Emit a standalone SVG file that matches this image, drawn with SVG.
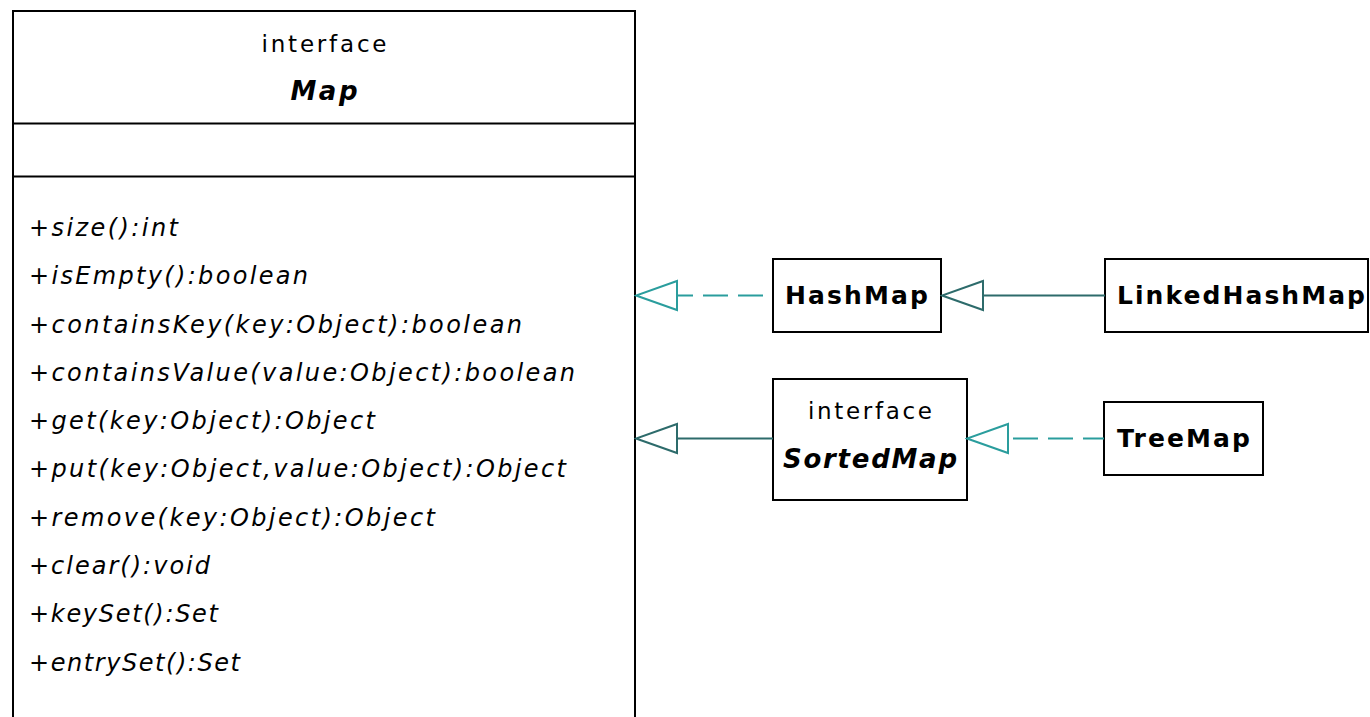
<svg xmlns="http://www.w3.org/2000/svg" width="1370" height="717" viewBox="0 0 1370 717">
<style>
.box{fill:#fff;stroke:#000;stroke-width:2}
.div{stroke:#000;stroke-width:2}
text{font-family:"DejaVu Sans","Liberation Sans",sans-serif;fill:#000}
.st{font-size:23px}
.nm{font-size:25px;font-weight:bold}
.ab{font-size:26px;font-weight:bold;font-style:italic}
.op{font-size:24px;font-style:italic}
.dash{fill:none;stroke:#2a9d9d;stroke-width:2;stroke-dasharray:25 10}
.solid{fill:none;stroke:#2d6b6b;stroke-width:2}
</style>
<defs>
<marker id="triD" markerUnits="userSpaceOnUse" markerWidth="46" markerHeight="36" viewBox="-44 -18 46 36" refX="-41" refY="0" orient="auto">
<path d="M0,0 L-41,-14.5 L-41,14.5 Z" fill="#fff" stroke="#2a9d9d" stroke-width="2"/>
</marker>
<marker id="triS" markerUnits="userSpaceOnUse" markerWidth="46" markerHeight="36" viewBox="-44 -18 46 36" refX="-41" refY="0" orient="auto">
<path d="M0,0 L-41,-14.5 L-41,14.5 Z" fill="#fff" stroke="#2d6b6b" stroke-width="2"/>
</marker>
</defs>
<g id="map">
<rect class="box" x="13" y="11" width="622" height="730"/>
<line class="div" x1="13" y1="123.5" x2="635" y2="123.5"/>
<line class="div" x1="13" y1="176.5" x2="635" y2="176.5"/>
<text class="st" x="324" y="52" text-anchor="middle" textLength="125" lengthAdjust="spacing">interface</text>
<text class="ab" x="324" y="100" text-anchor="middle" textLength="67" lengthAdjust="spacing">Map</text>
<text class="op" x="29" y="236" textLength="149" lengthAdjust="spacing">+size():int</text>
<text class="op" x="29" y="284" textLength="279" lengthAdjust="spacing">+isEmpty():boolean</text>
<text class="op" x="29" y="333" textLength="493" lengthAdjust="spacing">+containsKey(key:Object):boolean</text>
<text class="op" x="29" y="381" textLength="546" lengthAdjust="spacing">+containsValue(value:Object):boolean</text>
<text class="op" x="29" y="429" textLength="346" lengthAdjust="spacing">+get(key:Object):Object</text>
<text class="op" x="29" y="477" textLength="537" lengthAdjust="spacing">+put(key:Object,value:Object):Object</text>
<text class="op" x="29" y="526" textLength="406" lengthAdjust="spacing">+remove(key:Object):Object</text>
<text class="op" x="29" y="574" textLength="181" lengthAdjust="spacing">+clear():void</text>
<text class="op" x="29" y="622" textLength="189" lengthAdjust="spacing">+keySet():Set</text>
<text class="op" x="29" y="671" textLength="211" lengthAdjust="spacing">+entrySet():Set</text>
</g>
<g id="hashmap">
<rect class="box" x="773" y="259" width="168" height="73"/>
<text class="nm" x="785" y="304" textLength="143" lengthAdjust="spacing">HashMap</text>
</g>
<g id="linkedhashmap">
<rect class="box" x="1105" y="259" width="263" height="73"/>
<text class="nm" x="1117" y="304" textLength="248" lengthAdjust="spacing">LinkedHashMap</text>
</g>
<g id="sortedmap">
<rect class="box" x="773" y="379" width="194" height="121"/>
<text class="st" x="870" y="419" text-anchor="middle" textLength="124" lengthAdjust="spacing">interface</text>
<text class="ab" x="870" y="468" text-anchor="middle" textLength="174" lengthAdjust="spacing">SortedMap</text>
</g>
<g id="treemap">
<rect class="box" x="1104" y="402" width="159" height="73"/>
<text class="nm" x="1117" y="447" textLength="133" lengthAdjust="spacing">TreeMap</text>
</g>
<g id="connectors">
<path class="dash" d="M773,295.5 H677" stroke-dashoffset="25" marker-end="url(#triD)"/>
<path class="solid" d="M1105,295.5 H983" marker-end="url(#triS)"/>
<path class="solid" d="M773,438.5 H677" marker-end="url(#triS)"/>
<path class="dash" d="M1104,438.5 H1008" stroke-dashoffset="4" marker-end="url(#triD)"/>
</g>
</svg>
